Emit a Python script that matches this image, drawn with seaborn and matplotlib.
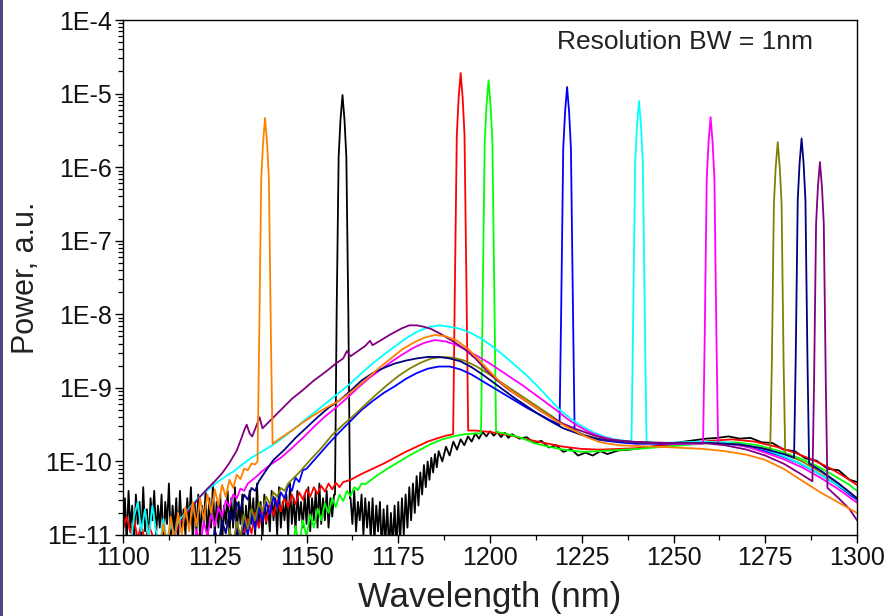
import numpy as np
import pandas as pd
import matplotlib.pyplot as plt
from matplotlib.ticker import LogLocator, MultipleLocator, NullFormatter
from matplotlib.patches import Rectangle
import seaborn as sns

# Spectra: wavelength (nm) and log10(power)
black_wl = ([1100 + 0.5 * i for i in range(116)]
            + [1157.75, 1158.2, 1158.75, 1159.25, 1159.8, 1160.35, 1160.85, 1161.4, 1161.85]
            + [1162 + 0.5 * i for i in range(48)]
            + list(range(1186, 1207))
            + [1208, 1210, 1212, 1214, 1216, 1218, 1220, 1222, 1224, 1226, 1228, 1230, 1232, 1235,
               1238, 1241, 1244, 1247, 1250, 1253, 1256, 1259, 1262, 1265, 1268, 1271, 1274, 1277,
               1280, 1283, 1286, 1289, 1292, 1295, 1298, 1300])
black_lg = ([-10.95, -10.5, -11.1, -10.4, -10.9, -10.6, -11.15, -10.45, -10.85, -10.55,
             -11.05, -10.35, -10.95, -10.65, -11.1, -10.5, -10.8, -10.4, -11.0, -10.6,
             -10.9, -10.45, -11.15, -10.55, -10.85, -10.3, -11.05, -10.6, -10.95, -10.5,
             -11.1, -10.4, -10.9, -10.65, -11.0, -10.5, -10.85, -10.35, -11.1, -10.55,
             -10.95, -10.45, -11.05, -10.6, -10.85, -10.4, -11.1, -10.5, -10.9, -10.3,
             -11.0, -10.55, -10.9, -10.45, -11.15, -10.6, -10.85, -10.4, -11.0, -10.5,
             -10.9, -10.35, -11.05, -10.55, -10.85, -10.45, -11.1, -10.6, -10.95, -10.4,
             -10.85, -10.5, -11.0, -10.3, -10.9, -10.55, -11.05, -10.45, -10.85, -10.6,
             -10.95, -10.4, -10.8, -10.5, -11.0, -10.35, -10.9, -10.55, -10.8, -10.45,
             -11.0, -10.3, -10.85, -10.5, -10.95, -10.4, -10.8, -10.55, -10.9, -10.45,
             -10.85, -10.35, -10.95, -10.5, -10.8, -10.4, -10.9, -10.3, -10.85, -10.5,
             -10.8, -10.4, -10.9, -10.5, -10.75, -10.45]
            + [-10.45, -8.02, -5.86, -5.36, -5.02, -5.36, -5.86, -8.02, -10.5]
            + [-10.5, -10.85, -10.4, -10.95, -10.55, -10.8, -10.45, -11.0, -10.5, -10.9,
               -10.55, -11.05, -10.5, -11.1, -10.6, -10.95, -10.55, -11.2, -10.65, -11.1,
               -10.6, -11.2, -10.7, -11.15, -10.6, -11.2, -10.55, -11.1, -10.5, -11.0,
               -10.45, -10.9, -10.35, -10.8, -10.3, -10.7, -10.2, -10.6, -10.15, -10.45,
               -10.05, -10.35, -10.0, -10.25, -9.95, -10.15, -9.9, -10.08]
            + [-9.86, -10.0, -9.8, -9.92, -9.73, -9.84, -9.7, -9.78, -9.66, -9.73,
               -9.62, -9.69, -9.6, -9.66, -9.59, -9.65, -9.6, -9.67, -9.61, -9.68, -9.63]
            + [-9.69, -9.67, -9.75, -9.72, -9.81, -9.78, -9.87, -9.83, -9.92, -9.88,
               -9.92, -9.86, -9.9, -9.85, -9.84, -9.82, -9.8, -9.77, -9.75, -9.73,
               -9.71, -9.69, -9.68, -9.66, -9.69, -9.68, -9.74, -9.75, -9.84, -9.86,
               -9.96, -9.99, -10.1, -10.12, -10.25, -10.28])

red_wl = (list(range(1100, 1110)) + [1115, 1125, 1132] + list(range(1133, 1161))
          + [1162, 1165, 1168, 1171, 1174, 1177, 1180, 1183, 1186, 1188, 1189.95]
          + [1190.4, 1190.95, 1191.45, 1192.0, 1192.55, 1193.05, 1193.6, 1194.05]
          + [1196, 1200, 1205, 1210, 1215, 1220, 1225, 1230, 1240, 1250, 1260, 1266, 1272,
             1278, 1283, 1288, 1293, 1297, 1300])
red_lg = ([-10.92, -10.75, -10.97, -10.8, -11.05, -10.85, -11.1, -10.86, -11.0, -11.15]
          + [-11.2, -11.15, -11.0]
          + [-10.95, -10.78, -10.98, -10.7, -10.9, -10.65, -10.82, -10.58, -10.74, -10.53,
             -10.68, -10.5, -10.62, -10.45, -10.58, -10.42, -10.52, -10.38, -10.48, -10.35,
             -10.44, -10.33, -10.41, -10.3, -10.38, -10.29, -10.35, -10.28]
          + [-10.25, -10.17, -10.1, -10.03, -9.95, -9.87, -9.8, -9.73, -9.68, -9.65, -9.63]
          + [-7.72, -5.56, -5.06, -4.72, -5.06, -5.56, -7.72, -9.58]
          + [-9.58, -9.6, -9.64, -9.7, -9.75, -9.8, -9.83, -9.84, -9.82, -9.77, -9.72, -9.7,
             -9.73, -9.8, -9.88, -9.98, -10.1, -10.22, -10.32])

green_wl = (list(range(1146, 1167))
            + [1169, 1172, 1175, 1178, 1181, 1184, 1187, 1190, 1193, 1196, 1197.55]
            + [1198.0, 1198.55, 1199.05, 1199.6, 1200.15, 1200.65, 1201.2, 1201.65]
            + [1204, 1208, 1212, 1216, 1220, 1225, 1230, 1240, 1250, 1260, 1267, 1273, 1279,
               1284, 1289, 1294, 1298, 1300])
green_lg = ([-11.3, -10.88, -11.15, -10.8, -11.02, -10.72, -10.9, -10.64, -10.8, -10.57,
             -10.7, -10.5, -10.62, -10.45, -10.54, -10.4, -10.47, -10.35, -10.39, -10.3, -10.31]
            + [-10.2, -10.1, -10.01, -9.92, -9.84, -9.76, -9.7, -9.66, -9.63, -9.62, -9.62]
            + [-7.82, -5.66, -5.16, -4.82, -5.16, -5.66, -7.82, -9.6]
            + [-9.62, -9.67, -9.75, -9.8, -9.84, -9.87, -9.86, -9.83, -9.79, -9.75, -9.74,
               -9.78, -9.86, -9.95, -10.06, -10.2, -10.32, -10.4])

blue_wl = (list(range(1128, 1151))
           + [1153, 1156, 1159, 1162, 1165, 1168, 1171, 1174, 1177, 1180, 1183, 1186, 1189,
              1192, 1195, 1198, 1201, 1204, 1207, 1210, 1213, 1216, 1218.95]
           + [1219.4, 1219.95, 1220.45, 1221.0, 1221.55, 1222.05, 1222.6, 1223.05]
           + [1226, 1230, 1235, 1240, 1250, 1260, 1267, 1273, 1279, 1284, 1289, 1294, 1298, 1300])
blue_lg = ([-11.3, -10.92, -11.2, -10.85, -11.1, -10.78, -11.0, -10.7, -10.92, -10.62,
            -10.82, -10.55, -10.72, -10.48, -10.62, -10.42, -10.5, -10.32, -10.4, -10.22,
            -10.28, -10.12, -10.1]
           + [-9.93, -9.76, -9.6, -9.45, -9.3, -9.18, -9.07, -8.98, -8.88, -8.8, -8.74, -8.71,
              -8.71, -8.75, -8.82, -8.91, -9.0, -9.09, -9.18, -9.27, -9.35, -9.43, -9.5]
           + [-7.91, -5.75, -5.25, -4.91, -5.25, -5.75, -7.91, -9.58]
           + [-9.65, -9.71, -9.74, -9.76, -9.76, -9.75, -9.77, -9.83, -9.92, -10.02, -10.15,
              -10.3, -10.45, -10.52])

cyan_wl = (list(range(1102, 1116))
           + [1117, 1120, 1122, 1124, 1126, 1128, 1130, 1132, 1135, 1138, 1141, 1144, 1147,
              1150, 1153, 1156, 1159, 1162, 1165, 1168, 1171, 1174, 1177, 1180, 1183, 1186,
              1189, 1192, 1195, 1198, 1201, 1204, 1207, 1210, 1213, 1216, 1219, 1222, 1225,
              1228, 1231, 1234, 1237, 1238.55]
           + [1239.0, 1239.55, 1240.05, 1240.6, 1241.15, 1241.65, 1242.2, 1242.65]
           + [1246, 1252, 1258, 1264, 1270, 1275, 1280, 1285, 1290, 1295, 1300])
cyan_lg = ([-11.15, -10.75, -10.55, -10.95, -10.65, -11.05, -10.6, -10.95, -11.15, -10.78,
            -11.1, -10.85, -11.0, -10.82]
           + [-10.7, -10.52, -10.43, -10.35, -10.27, -10.2, -10.14, -10.06, -9.95, -9.86,
              -9.77, -9.66, -9.54, -9.42, -9.3, -9.18, -9.06, -8.94, -8.8, -8.67,
              -8.55, -8.44, -8.33, -8.24, -8.18, -8.15, -8.17, -8.2, -8.26, -8.34,
              -8.45, -8.57, -8.7, -8.83, -8.98, -9.14, -9.3, -9.42, -9.52, -9.6,
              -9.66, -9.7, -9.72, -9.73]
           + [-8.10, -5.94, -5.44, -5.10, -5.44, -5.94, -8.10, -9.74]
           + [-9.75, -9.74, -9.73, -9.74, -9.78, -9.84, -9.93, -10.04, -10.18, -10.33, -10.5])

magenta_wl = (list(range(1119, 1135))
              + [1136, 1138, 1140, 1143, 1146, 1149, 1152, 1155, 1158, 1161, 1164, 1167, 1170,
                 1173, 1176, 1179, 1182, 1185, 1188, 1191, 1194, 1197, 1200, 1203, 1206, 1209,
                 1212, 1215, 1218, 1221, 1224, 1227, 1230, 1234, 1238, 1244, 1250, 1256, 1258.05]
              + [1258.5, 1259.05, 1259.55, 1260.1, 1260.65, 1261.15, 1261.7, 1262.15]
              + [1266, 1270, 1275, 1280, 1285, 1290, 1295, 1300])
magenta_lg = ([-11.3, -10.92, -11.15, -10.82, -11.02, -10.72, -10.88, -10.62, -10.75, -10.53,
               -10.62, -10.45, -10.5, -10.37, -10.4, -10.3]
              + [-10.22, -10.13, -10.05, -9.95, -9.82, -9.68, -9.53, -9.39, -9.27, -9.14,
                 -9.0, -8.87, -8.76, -8.65, -8.55, -8.46, -8.39, -8.35, -8.37, -8.42,
                 -8.5, -8.58, -8.67, -8.77, -8.87, -8.97, -9.08, -9.19, -9.3, -9.42,
                 -9.52, -9.6, -9.66, -9.71, -9.73, -9.75, -9.76, -9.76, -9.76]
              + [-8.32, -6.16, -5.66, -5.32, -5.66, -6.16, -8.32, -9.76]
              + [-9.77, -9.8, -9.88, -9.97, -10.08, -10.22, -10.38, -10.56])

olive_wl = (list(range(1128, 1146))
            + [1148, 1151, 1154, 1157, 1160, 1163, 1166, 1169, 1172, 1175, 1178, 1181, 1184,
               1187, 1190, 1193, 1196, 1199, 1202, 1205, 1208, 1211, 1214, 1217, 1220, 1225,
               1230, 1240, 1250, 1260, 1268, 1274, 1276.35]
            + [1276.8, 1277.35, 1277.85, 1278.4, 1278.95, 1279.45, 1280.0, 1280.45]
            + [1285, 1290, 1295, 1300])
olive_lg = ([-11.3, -10.92, -11.15, -10.82, -11.02, -10.72, -10.92, -10.64, -10.8, -10.56,
             -10.68, -10.48, -10.58, -10.42, -10.48, -10.36, -10.4, -10.3]
            + [-10.15, -9.98, -9.82, -9.64, -9.5, -9.37, -9.23, -9.09, -8.96, -8.84,
               -8.74, -8.66, -8.6, -8.58, -8.59, -8.63, -8.7, -8.79, -8.89, -8.99,
               -9.09, -9.19, -9.29, -9.39, -9.5, -9.63, -9.7, -9.74, -9.75, -9.75,
               -9.77, -9.82, -9.84]
            + [-8.66, -6.5, -6.0, -5.66, -6.0, -6.5, -8.66, -9.9]
            + [-10.0, -10.14, -10.3, -10.5])

navy_wl = (list(range(1124, 1138))
           + [1139, 1141, 1144, 1147, 1150, 1153, 1156, 1159, 1162, 1165, 1168, 1171, 1174,
              1177, 1180, 1183, 1186, 1189, 1192, 1195, 1198, 1201, 1204, 1207, 1210, 1213,
              1216, 1220, 1225, 1230, 1240, 1250, 1260, 1268, 1274, 1280, 1282.85]
           + [1283.3, 1283.85, 1284.35, 1284.9, 1285.45, 1285.95, 1286.5, 1286.95]
           + [1290, 1295, 1300])
navy_lg = ([-11.3, -10.92, -11.15, -10.8, -10.98, -10.68, -10.82, -10.56, -10.66, -10.45,
            -10.52, -10.36, -10.4, -10.27]
           + [-10.12, -9.98, -9.84, -9.68, -9.54, -9.4, -9.27, -9.17, -9.04, -8.9,
              -8.8, -8.73, -8.67, -8.63, -8.6, -8.58, -8.58, -8.6, -8.64, -8.72,
              -8.82, -8.93, -9.04, -9.15, -9.25, -9.35, -9.44, -9.55, -9.64, -9.7,
              -9.74, -9.75, -9.75, -9.77, -9.82, -9.9, -9.95]
           + [-8.61, -6.45, -5.95, -5.61, -5.95, -6.45, -8.61, -10.03]
           + [-10.12, -10.3, -10.5])

purple_wl = ([1113, 1115, 1117, 1119, 1121, 1123, 1125, 1127, 1129, 1131,
              1132, 1133, 1133.7, 1134.5, 1135.2, 1136.3, 1137.2, 1138.0, 1140, 1143,
              1146, 1149, 1152, 1155, 1158, 1160, 1161, 1162, 1164, 1166,
              1167.3, 1168, 1170, 1173, 1176, 1178, 1180, 1182, 1184, 1187,
              1190, 1193, 1196, 1199, 1202, 1205, 1208, 1211, 1214, 1217,
              1220, 1224, 1228, 1232, 1238, 1245, 1252, 1258, 1264, 1270,
              1275, 1280, 1285, 1287.85]
             + [1288.3, 1288.85, 1289.35, 1289.9, 1290.45, 1290.95, 1291.5, 1291.95]
             + [1295, 1298, 1300])
purple_lg = ([-11.1, -10.9, -10.72, -10.6, -10.48, -10.37, -10.27, -10.16, -10.02, -9.85,
              -9.72, -9.58, -9.5, -9.62, -9.66, -9.52, -9.4, -9.55, -9.45, -9.3,
              -9.15, -9.03, -8.9, -8.79, -8.67, -8.6, -8.5, -8.57, -8.5, -8.43,
              -8.36, -8.42, -8.36, -8.27, -8.19, -8.15, -8.15, -8.17, -8.2, -8.28,
              -8.37, -8.47, -8.6, -8.76, -8.9, -9.02, -9.12, -9.22, -9.32, -9.41,
              -9.49, -9.57, -9.64, -9.7, -9.73, -9.75, -9.75, -9.75, -9.78, -9.84,
              -9.92, -10.03, -10.18, -10.27]
             + [-8.93, -6.77, -6.27, -5.93, -6.27, -6.77, -8.93, -10.36]
             + [-10.5, -10.65, -10.8])

orange_wl = (list(range(1110, 1137))
             + [1136.65, 1137.1, 1137.65, 1138.15, 1138.7, 1139.25, 1139.75, 1140.3, 1140.75]
             + [1143, 1146, 1149, 1152, 1155, 1158, 1161, 1164, 1167, 1170, 1173, 1176, 1179,
                1182, 1185, 1188, 1191, 1194, 1197, 1200, 1203, 1206, 1209, 1212, 1215, 1218,
                1222, 1226, 1230, 1235, 1240, 1250, 1258, 1264, 1270, 1275, 1280, 1285, 1290,
                1295, 1300])
orange_lg = ([-11.25, -10.85, -11.15, -10.75, -11.1, -10.7, -11.0, -10.62, -10.95, -10.55,
              -10.88, -10.5, -10.8, -10.45, -10.7, -10.38, -10.6, -10.32, -10.48, -10.25,
              -10.36, -10.18, -10.24, -10.1, -10.12, -10.03, -10.04]
             + [-10.0, -8.33, -6.17, -5.67, -5.33, -5.67, -6.17, -8.33, -9.76]
             + [-9.68, -9.58, -9.47, -9.37, -9.28, -9.2, -9.1, -8.98, -8.85, -8.72,
                -8.6, -8.48, -8.39, -8.32, -8.28, -8.3, -8.36, -8.47, -8.62, -8.78,
                -8.93, -9.05, -9.15, -9.25, -9.35, -9.45, -9.56, -9.66, -9.74, -9.78,
                -9.79, -9.81, -9.83, -9.86, -9.91, -9.98, -10.1, -10.26, -10.42, -10.56,
                -10.7])

series_names = ["black", "red", "green", "blue", "cyan", "magenta", "olive", "navy", "purple", "orange"]
series_colors = ["#000000", "#ff0000", "#00ff00", "#0000ff", "#00ffff", "#ff00ff",
                 "#808000", "#000080", "#800080", "#ff8000"]
series_wl = [black_wl, red_wl, green_wl, blue_wl, cyan_wl, magenta_wl, olive_wl, navy_wl, purple_wl, orange_wl]
series_lg = [black_lg, red_lg, green_lg, blue_lg, cyan_lg, magenta_lg, olive_lg, navy_lg, purple_lg, orange_lg]

ytick_exp = [-11, -10, -9, -8, -7, -6, -5, -4]
ytick_labels = ["1E-11", "1E-10", "1E-9", "1E-8", "1E-7", "1E-6", "1E-5", "1E-4"]

# line widths (style only)
line_widths = {name: 1.3 for name in series_names}
line_widths["black"] = 1.3

# long-form table for seaborn
frames = []
for name, wl, lg in zip(series_names, series_wl, series_lg):
    frames.append(pd.DataFrame({"wl": wl, "power": 10.0 ** np.array(lg), "series": name}))
df = pd.concat(frames, ignore_index=True)

sns.set_style("ticks")
plt.rcParams["font.family"] = ["Liberation Sans", "DejaVu Sans"]

fig = plt.figure(figsize=(8.89, 6.16), dpi=100)
ax = fig.add_axes([0.1384, 0.1315, 0.8256, 0.836])

sns.lineplot(data=df, x="wl", y="power", hue="series", hue_order=series_names,
             palette=dict(zip(series_names, series_colors)),
             size="series", sizes=line_widths, size_order=series_names,
             estimator=None, sort=False, legend=False, ax=ax)

ax.set_yscale("log")
ax.set_xlim(1100, 1300)
ax.set_ylim(1e-11, 1e-4)
ax.set_yticks([10.0 ** e for e in ytick_exp], ytick_labels)
ax.yaxis.set_minor_locator(LogLocator(base=10, subs=np.arange(2, 10), numticks=20))
ax.yaxis.set_minor_formatter(NullFormatter())
ax.xaxis.set_major_locator(MultipleLocator(25))
ax.xaxis.set_minor_locator(MultipleLocator(12.5))

for s in ax.spines.values():
    s.set_visible(True)
    s.set_color("black")
    s.set_linewidth(1.0)
ax.tick_params(which="major", direction="out", length=6, width=1.0, color="black",
               labelsize=18, labelcolor="#111111", pad=2)
ax.tick_params(which="minor", direction="out", length=3.5, width=0.9, color="black")
ax.tick_params(top=False, right=False, which="both")

ax.set_xlabel("Wavelength (nm)", fontsize=25, color="#222222", labelpad=8)
ax.set_ylabel("Power, a.u.", fontsize=22, color="#222222", labelpad=3)

ax.text(0.766, 0.957, "Resolution BW = 1nm", transform=ax.transAxes,
        ha="center", va="center", fontsize=19, color="#222222")

# dark slide edge on the left
fig.add_artist(Rectangle((0, 0), 2.5 / 889, 1, transform=fig.transFigure,
                         facecolor="#4b4c7d", edgecolor="none"))

fig.savefig("out.png", dpi=100)
